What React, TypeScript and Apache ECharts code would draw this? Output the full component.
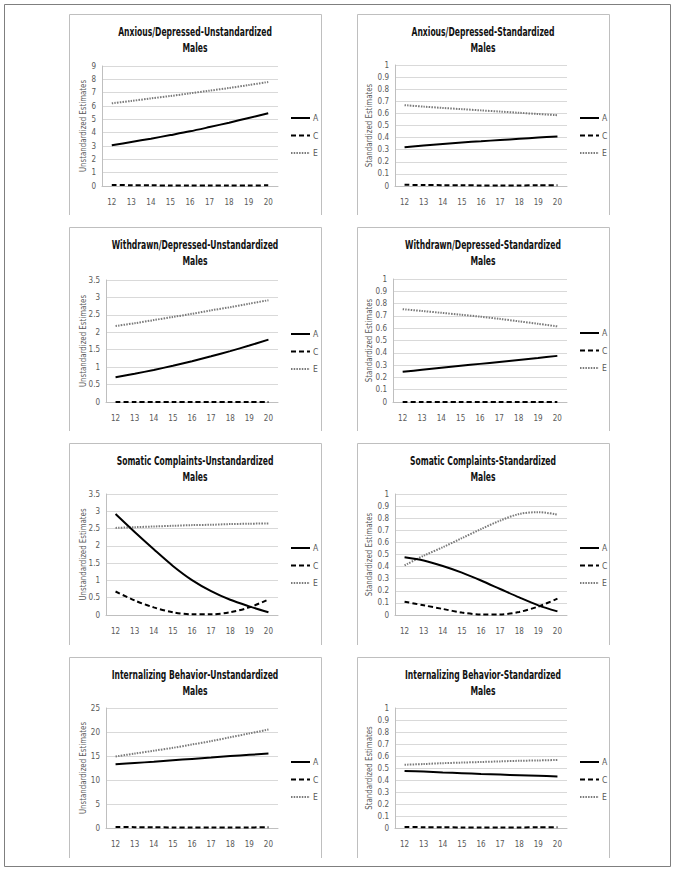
import React, { useEffect, useRef } from 'react';
import * as echarts from 'echarts';

// ---------------- data ----------------
const ages = ['12', '13', '14', '15', '16', '17', '18', '19', '20'];
const componentNames = ['A', 'C', 'E'];

const anxUnstdA = [3.05, 3.3, 3.55, 3.82, 4.1, 4.42, 4.75, 5.1, 5.45];
const anxUnstdC = [0.08, 0.06, 0.05, 0.04, 0.03, 0.03, 0.03, 0.04, 0.05];
const anxUnstdE = [6.2, 6.38, 6.57, 6.75, 6.95, 7.15, 7.35, 7.57, 7.8];

const anxStdA = [0.32, 0.335, 0.348, 0.36, 0.37, 0.38, 0.39, 0.4, 0.41];
const anxStdC = [0.01, 0.008, 0.007, 0.006, 0.005, 0.005, 0.005, 0.006, 0.007];
const anxStdE = [0.668, 0.656, 0.645, 0.635, 0.625, 0.615, 0.605, 0.595, 0.585];

const wdUnstdA = [0.71, 0.81, 0.92, 1.04, 1.17, 1.31, 1.46, 1.62, 1.79];
const wdUnstdC = [0, 0, 0, 0, 0, 0, 0, 0, 0];
const wdUnstdE = [2.18, 2.26, 2.35, 2.44, 2.53, 2.63, 2.72, 2.82, 2.92];

const wdStdA = [0.245, 0.262, 0.278, 0.294, 0.31, 0.326, 0.342, 0.358, 0.375];
const wdStdC = [0, 0, 0, 0, 0, 0, 0, 0, 0];
const wdStdE = [0.755, 0.74, 0.725, 0.71, 0.694, 0.676, 0.656, 0.636, 0.615];

const somUnstdA = [2.92, 2.4, 1.9, 1.42, 1.01, 0.69, 0.44, 0.25, 0.08];
const somUnstdC = [0.68, 0.42, 0.22, 0.08, 0.02, 0.02, 0.08, 0.22, 0.45];
const somUnstdE = [2.52, 2.54, 2.56, 2.58, 2.6, 2.61, 2.63, 2.64, 2.65];

const somStdA = [0.477, 0.45, 0.405, 0.35, 0.285, 0.215, 0.145, 0.08, 0.03];
const somStdC = [0.11, 0.08, 0.05, 0.02, 0.005, 0.005, 0.025, 0.07, 0.135];
const somStdE = [0.41, 0.49, 0.56, 0.635, 0.71, 0.78, 0.835, 0.85, 0.83];

const intUnstdA = [13.3, 13.55, 13.8, 14.1, 14.4, 14.7, 15.0, 15.25, 15.5];
const intUnstdC = [0.2, 0.18, 0.15, 0.12, 0.1, 0.1, 0.1, 0.12, 0.15];
const intUnstdE = [14.9, 15.5, 16.1, 16.7, 17.4, 18.1, 18.9, 19.7, 20.5];

const intStdA = [0.475, 0.47, 0.463, 0.457, 0.45, 0.445, 0.44, 0.435, 0.43];
const intStdC = [0.008, 0.007, 0.006, 0.005, 0.005, 0.005, 0.005, 0.006, 0.007];
const intStdE = [0.527, 0.533, 0.54, 0.545, 0.55, 0.555, 0.56, 0.563, 0.567];

const titles = [
  'Anxious/Depressed-Unstandardized',
  'Anxious/Depressed-Standardized',
  'Withdrawn/Depressed-Unstandardized',
  'Withdrawn/Depressed-Standardized',
  'Somatic Complaints-Unstandardized',
  'Somatic Complaints-Standardized',
  'Internalizing Behavior-Unstandardized',
  'Internalizing Behavior-Standardized',
];
const subtitle = 'Males';
const yNames = ['Unstandardized Estimates', 'Standardized Estimates'];
const yMax = [9, 1, 3.5, 1, 3.5, 1, 25, 1];
const yInterval = [1, 0.1, 0.5, 0.1, 0.5, 0.1, 5, 0.1];

const seriesData = [
  [anxUnstdA, anxUnstdC, anxUnstdE],
  [anxStdA, anxStdC, anxStdE],
  [wdUnstdA, wdUnstdC, wdUnstdE],
  [wdStdA, wdStdC, wdStdE],
  [somUnstdA, somUnstdC, somUnstdE],
  [somStdA, somStdC, somStdE],
  [intUnstdA, intUnstdC, intUnstdE],
  [intStdA, intStdC, intStdE],
];

// ---------------- layout ----------------
const boxes = [
  [69, 14, 321, 215],
  [357, 14, 609, 215],
  [69, 227, 321, 431],
  [357, 227, 609, 431],
  [69, 443, 321, 645],
  [357, 443, 609, 645],
  [69, 657, 321, 858],
  [357, 657, 609, 858],
];
const grids = [
  { left: 102, top: 66, width: 176, height: 120 },
  { left: 395, top: 65, width: 172, height: 121 },
  { left: 106, top: 280, width: 172, height: 122 },
  { left: 393, top: 279, width: 174, height: 123 },
  { left: 106, top: 494, width: 172, height: 121 },
  { left: 395, top: 494, width: 172, height: 121 },
  { left: 106, top: 708, width: 172, height: 120 },
  { left: 395, top: 708, width: 172, height: 120 },
];
const legendPos = [
  { left: 290, top: 113 },
  { left: 579, top: 113 },
  { left: 290, top: 329 },
  { left: 579, top: 328 },
  { left: 290, top: 543 },
  { left: 579, top: 543 },
  { left: 290, top: 757 },
  { left: 579, top: 757 },
];

const FONT = "'Liberation Sans Narrow', 'DejaVu Sans Condensed', 'Arial Narrow', 'Liberation Sans', sans-serif";
const LABEL_COLOR = '#595959';

const lineStyles = [
  { color: '#000000', width: 2, type: 'solid' as any },
  { color: '#000000', width: 2, type: [5, 3] as any },
  { color: '#7a7a7a', width: 2, type: [1.5, 1.2] as any },
];

export default function App() {
  const ref = useRef<HTMLDivElement>(null);

  useEffect(() => {
    if (!ref.current) return;
    const chart = echarts.init(ref.current, null, { renderer: 'svg' });

    const graphic: any[] = [
      {
        type: 'rect',
        shape: { x: 4.5, y: 4.5, width: 666, height: 862 },
        style: { fill: 'none', stroke: '#7f7f7f', lineWidth: 1 },
        silent: true,
      },
    ];

    boxes.forEach((b, i) => {
      graphic.push({
        type: 'polyline',
        shape: { points: [[b[0] + 0.5, b[3]], [b[0] + 0.5, b[1] + 0.5], [b[2] + 0.5, b[1] + 0.5], [b[2] + 0.5, b[3]]] },
        style: { fill: 'none', stroke: '#bfbfbf', lineWidth: 1 },
        silent: true,
      });
      const cx = (b[0] + b[2]) / 2;
      [titles[i], subtitle].forEach((t, li) => {
        graphic.push({
          type: 'text',
          x: cx,
          y: b[1] + 18 + li * 15.5,
          scaleX: 0.68,
          style: {
            text: t,
            fontFamily: FONT,
            fontWeight: 'bold',
            fontSize: 12.5,
            fill: '#111111',
            textAlign: 'center',
            textVerticalAlign: 'middle',
          },
          silent: true,
        });
      });
      const g = grids[i];
      graphic.push({
        type: 'text',
        x: i % 2 === 0 ? 83 : 369,
        y: g.top + g.height / 2,
        rotation: Math.PI / 2,
        scaleX: 0.87,
        style: {
          text: yNames[i % 2],
          fontFamily: FONT,
          fontSize: 9,
          fill: LABEL_COLOR,
          textAlign: 'center',
          textVerticalAlign: 'middle',
        },
        silent: true,
      });
    });

    const series: any[] = [];
    seriesData.forEach((set, i) => {
      set.forEach((vals, k) => {
        series.push({
          type: 'line',
          name: componentNames[k],
          xAxisIndex: i,
          yAxisIndex: i,
          data: vals,
          symbol: 'none',
          smooth: 0.3,
          lineStyle: lineStyles[k],
          itemStyle: { color: lineStyles[k].color },
          z: 3 - k,
        });
      });
    });

    const option: any = {
      animation: false,
      backgroundColor: '#ffffff',
      textStyle: { fontFamily: FONT },
      grid: grids.map((g) => ({ ...g, containLabel: false })),
      xAxis: grids.map((_, i) => ({
        type: 'category',
        gridIndex: i,
        data: ages,
        boundaryGap: true,
        axisLine: { show: true, lineStyle: { color: '#bfbfbf', width: 1 } },
        axisTick: { show: false },
        axisLabel: { color: LABEL_COLOR, fontSize: 8, fontFamily: FONT, margin: 12 },
        splitLine: { show: false },
      })),
      yAxis: grids.map((_, i) => ({
        type: 'value',
        gridIndex: i,
        min: 0,
        max: yMax[i],
        interval: yInterval[i],
        axisLine: { show: true, lineStyle: { color: '#bfbfbf', width: 1 } },
        axisTick: { show: false },
        axisLabel: { color: LABEL_COLOR, fontSize: 8, fontFamily: FONT, margin: 6 },
        splitLine: { show: true, lineStyle: { color: '#d9d9d9', width: 1 } },
      })),
      legend: legendPos.map((p) => ({
        orient: 'vertical',
        left: p.left,
        top: p.top,
        padding: 0,
        itemWidth: 19,
        itemHeight: 10,
        itemGap: 7.5,
        selectedMode: false,
        data: componentNames,
        itemStyle: { opacity: 0 },
        textStyle: { fontSize: 8.5, color: LABEL_COLOR, fontFamily: FONT, lineHeight: 10, padding: [0, 0, 0, -2] },
      })),
      series,
      graphic,
    };

    chart.setOption(option);
    return () => chart.dispose();
  }, []);

  return (
    <div
      ref={ref}
      style={{ position: 'fixed', left: 0, top: 0, width: 676, height: 872, background: '#fff' }}
    />
  );
}
